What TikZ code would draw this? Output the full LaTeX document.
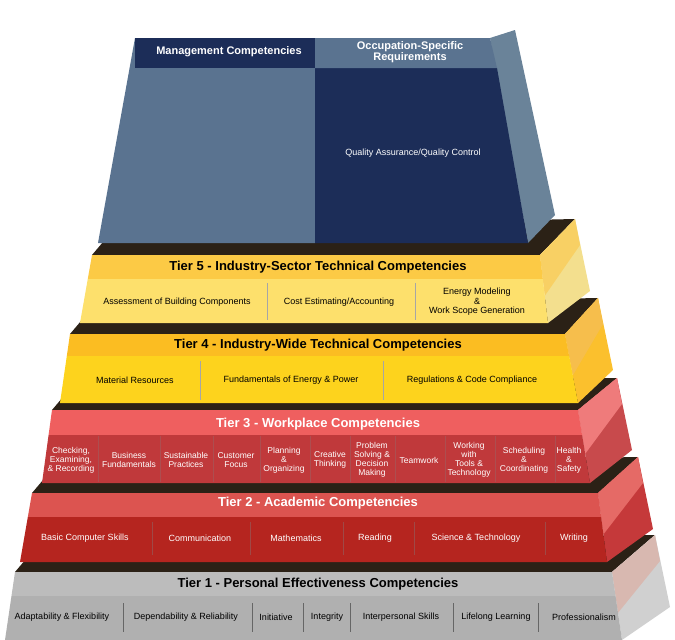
\documentclass[tikz,border=0pt]{standalone}
\usepackage{fontspec}
\setmainfont{Liberation Sans}
\usetikzlibrary{calc}
\definecolor{navy}{HTML}{1C2D58}
\definecolor{steel}{HTML}{5A7390}
\definecolor{steelside}{HTML}{6A8399}
\definecolor{topblack}{HTML}{2B2116}
\definecolor{title5}{HTML}{FCCA45}\definecolor{item5}{HTML}{FDE06C}\definecolor{side5}{HTML}{F3DF8E}\definecolor{light5}{HTML}{F8D064}
\definecolor{title4}{HTML}{FBBD22}\definecolor{item4}{HTML}{FDD31D}\definecolor{side4}{HTML}{FBC02D}\definecolor{light4}{HTML}{F6BE4C}
\definecolor{title3}{HTML}{EF5F5F}\definecolor{item3}{HTML}{C0393B}\definecolor{side3}{HTML}{C84A4C}\definecolor{light3}{HTML}{EF7B7B}
\definecolor{title2}{HTML}{DC5450}\definecolor{item2}{HTML}{B5251F}\definecolor{side2}{HTML}{C5393A}\definecolor{light2}{HTML}{E56A66}
\definecolor{title1}{HTML}{BCBCBC}\definecolor{item1}{HTML}{B0B0B0}\definecolor{side1}{HTML}{D0D0D0}\definecolor{light1}{HTML}{D8B8B0}
\tikzset{
  tiertitle/.style={font=\fontsize{13}{14}\selectfont\bfseries, inner sep=0pt},
  itemtext/.style={font=\fontsize{9}{9.5}\selectfont, align=center, inner sep=0pt},
  divider/.style={draw=gray!70, line width=1pt},
}
% one tier: n, ytop, ymid, ybot, xlt, xrt, xlb, xrb, apex
\newcommand\tierbody[9]{
  \fill[topblack] (#5,#2) -- ($(#5,#2)+(22,-26)$) -- (#9) -- (#6,#2) -- cycle;
  \fill[side#1] (#6,#2) -- (#9) -- ($(#9)+(15,72)$) -- (#8,#4) -- cycle;
  \fill[light#1] (#6,#2) -- (#9) -- ($(#9)+(5,26)$) -- ($(#6,#2)!0.6!(#8,#4)$) -- cycle;
  \fill[title#1] (#5,#2) -- (#6,#2) -- ($(#6,#2)!{(#3-#2)/(#4-#2)}!(#8,#4)$) -- ($(#5,#2)!{(#3-#2)/(#4-#2)}!(#7,#4)$) -- cycle;
  \fill[item#1] ($(#5,#2)!{(#3-#2)/(#4-#2)}!(#7,#4)$) -- ($(#6,#2)!{(#3-#2)/(#4-#2)}!(#8,#4)$) -- (#8,#4) -- (#7,#4) -- cycle;
}
\begin{document}
\begin{tikzpicture}[x=1pt, y=-1pt]
\useasboundingbox (0,0) rectangle (675,640);
%Tiers
\tierbody{1}{572}{596}{640}{15}{612}{5}{622}{655,535}
\tierbody{2}{493}{517}{562}{32}{598}{20}{607}{638,457}
\tierbody{3}{410}{435}{483}{52}{578}{42}{590}{617,378}
\tierbody{4}{334}{356}{403}{70}{565}{60}{578}{598,298}
\tierbody{5}{255}{279}{323}{92}{540}{80}{548}{575,219}

%Top block
\fill[steelside] (490,38) -- (515,30) -- (555,215) -- (528,243) -- cycle;
\fill[steel] (135,38) -- (315,38) -- (315,243) -- (98,243) -- cycle;
\fill[navy] (315,68) -- (497,68) -- (528,243) -- (315,243) -- cycle;
\fill[navy] (135,38) rectangle (315,68);
\fill[steel] (315,38) -- (490,38) -- (497,68) -- (315,68) -- cycle;
\node[tiertitle, font=\fontsize{11}{12}\selectfont\bfseries, text=white] (mgmt) at (229,52) {Management Competencies};
\node[tiertitle, font=\fontsize{11}{10}\selectfont\bfseries, text=white, align=center] (occ) at (410,52) {Occupation-Specific\\Requirements};
\node[itemtext, text=white] (qaqc) at (413,153) {Quality Assurance/Quality Control};

%Tier 5
\node[tiertitle] (t5) at (318,267) {Tier 5 - Industry-Sector Technical Competencies};
\foreach \x in {267,415} \draw[divider] (\x,283) -- (\x,320);
\node[itemtext] (t5a) at (177,302) {Assessment of Building Components};
\node[itemtext] (t5b) at (339,302) {Cost Estimating/Accounting};
\node[itemtext] (t5c) at (477,302) {Energy Modeling\\\&\\Work Scope Generation};

%Tier 4
\node[tiertitle] (t4) at (318,345) {Tier 4 - Industry-Wide Technical Competencies};
\foreach \x in {200,383} \draw[divider] (\x,361) -- (\x,400);
\node[itemtext] (t4a) at (135,380) {Material Resources};
\node[itemtext] (t4b) at (291,380) {Fundamentals of Energy \& Power};
\node[itemtext] (t4c) at (472,380) {Regulations \& Code Compliance};

%Tier 3
\node[tiertitle, text=white] (t3) at (318,424) {Tier 3 - Workplace Competencies};
\foreach \x in {98,160,213,260,310,350,395,445,495,555} \draw[divider, draw=item3!70!gray] (\x,436) -- (\x,482);
\foreach \x/\t [count=\i] in {71/{Checking,\\Examining,\\\& Recording}, 129/{Business\\Fundamentals},
    186/{Sustainable\\Practices}, 236/{Customer\\Focus}, 284/{Planning\\\&\\Organizing},
    330/{Creative\\Thinking}, 372/{Problem\\Solving \&\\Decision\\Making}, 419/{Teamwork},
    469/{Working\\with\\Tools \&\\Technology}, 524/{Scheduling\\\&\\Coordinating}, 569/{Health\\\&\\Safety}}
  \node[itemtext, text=white, font=\fontsize{8.5}{9}\selectfont] (t3\i) at (\x,460) {\t};

%Tier 2
\node[tiertitle, text=white] (t2) at (318,503) {Tier 2 - Academic Competencies};
\foreach \x in {152,250,343,414,545} \draw[divider, draw=item2!60!gray] (\x,522) -- (\x,555);
\foreach \x/\t [count=\i] in {85/{Basic Computer Skills}, 200/{Communication}, 296/{Mathematics},
    375/{Reading}, 476/{Science \& Technology}, 574/{Writing}}
  \node[itemtext, text=white] (t2\i) at (\x,538) {\t};

%Tier 1
\node[tiertitle] (t1) at (318,584) {Tier 1 - Personal Effectiveness Competencies};
\foreach \x in {123,252,303,350,453,538} \draw[divider, draw=gray!120] (\x,603) -- (\x,632);
\foreach \x/\t [count=\i] in {62/{Adaptability \& Flexibility}, 186/{Dependability \& Reliability},
    276/{Initiative}, 327/{Integrity}, 401/{Interpersonal Skills}, 496/{Lifelong Learning}, 584/{Professionalism}}
  \node[itemtext] (t1\i) at (\x,617) {\t};
\end{tikzpicture}
\end{document}
